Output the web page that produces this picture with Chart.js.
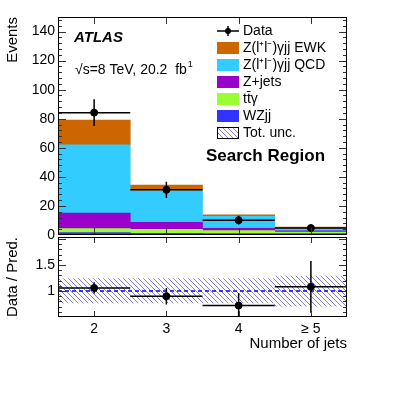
<!DOCTYPE html>
<html>
<head>
<meta charset="utf-8">
<script src="https://cdn.jsdelivr.net/npm/chart.js@4.4.1/dist/chart.umd.min.js"></script>
<style>
  html, body { margin: 0; padding: 0; background: #fff; }
  #wrap { position: relative; width: 407px; height: 394px; }
  canvas { position: absolute; left: 0; top: 0; }
</style>
</head>
<body>
<div id="wrap">
  <canvas id="main" width="407" height="394"></canvas>
  <canvas id="ratio" width="407" height="394"></canvas>
</div>
<script>
// bins and stacked backgrounds (bottom to top)
const categories = ['2', '3', '4', '≥ 5'];
const wzjj = [1.6, 1.2, 1.0, 1.0];
const ttgamma = [2.8, 2.7, 2.0, 1.0];
const zjets = [10.6, 4.9, 1.6, 0.8];
const zgQcd = [47.0, 21.8, 8.3, 2.0];
const zgEwk = [17.0, 3.8, 0.9, 0.7];

// observed data
const dataVals = [84.2, 31.1, 10.2, 4.8];
const dataErr = [9.2, 5.6, 3.0, 2.2];

// ratio panel
const ratioVals = [1.06, 0.90, 0.72, 1.08];
const ratioErr = [0.11, 0.16, 0.24, 0.50];
const uncLow = [0.77, 0.77, 0.77, 0.71];
const uncHigh = [1.24, 1.24, 1.24, 1.29];

const mainTicks = [0, 20, 40, 60, 80, 100, 120, 140];
const ratioTicks = [1, 1.5];

const FONT = '"Liberation Sans", Arial, sans-serif';
Chart.defaults.font.family = FONT;
Chart.defaults.color = '#000';

const makeHatch = (ctx) => {
  const tile = document.createElement('canvas');
  tile.width = 5; tile.height = 5;
  const g = tile.getContext('2d');
  g.strokeStyle = 'rgb(125,125,235)';
  g.lineWidth = 1;
  g.beginPath();
  g.moveTo(-1, -1); g.lineTo(6, 6);
  g.moveTo(-1, 4); g.lineTo(1, 6);
  g.moveTo(4, -1); g.lineTo(6, 1);
  g.stroke();
  return ctx.createPattern(tile, 'repeat');
};

const drawFrameAndTicks = (chart, yStepMajor, yStepMinor, yMin, yMax, xLen) => {
  const { ctx, chartArea: a, scales } = chart;
  const y = scales.y, x = scales.x;
  ctx.save();
  ctx.strokeStyle = '#333';
  ctx.lineWidth = 1;
  ctx.beginPath();
  const nMinor = Math.round((yMax - yMin) / yStepMinor);
  const ratio = Math.round(yStepMajor / yStepMinor);
  for (let i = 0; i <= nMinor; i++) {
    const v = yMin + i * yStepMinor;
    const py = Math.round(y.getPixelForValue(v)) + 0.5;
    if (py < a.top || py > a.bottom) continue;
    const len = i % ratio === 0 ? 8 : 4;
    ctx.moveTo(a.left, py); ctx.lineTo(a.left + len, py);
    ctx.moveTo(a.right, py); ctx.lineTo(a.right - len, py);
  }
  categories.forEach((c, i) => {
    const px = Math.round(x.getPixelForValue(i)) + 0.5;
    ctx.moveTo(px, a.top); ctx.lineTo(px, a.top + xLen);
    ctx.moveTo(px, a.bottom); ctx.lineTo(px, a.bottom - xLen);
  });
  ctx.stroke();
  ctx.strokeStyle = '#000';
  ctx.strokeRect(a.left + 0.5, a.top + 0.5, a.right - a.left - 1, a.bottom - a.top - 1);
  ctx.restore();
};

const drawErrors = (chart, vals, errs) => {
  const { ctx, chartArea: a, scales } = chart;
  const half = (a.right - a.left) / categories.length / 2;
  ctx.save();
  ctx.beginPath();
  ctx.rect(a.left, a.top, a.right - a.left, a.bottom - a.top);
  ctx.clip();
  ctx.strokeStyle = '#000';
  ctx.lineWidth = 1.5;
  ctx.beginPath();
  vals.forEach((v, i) => {
    const px = scales.x.getPixelForValue(i);
    const py = scales.y.getPixelForValue(v);
    ctx.moveTo(px - half, py); ctx.lineTo(px + half, py);
    ctx.moveTo(px, scales.y.getPixelForValue(v + errs[i]));
    ctx.lineTo(px, scales.y.getPixelForValue(v - errs[i]));
  });
  ctx.stroke();
  ctx.restore();
};

// main panel
const mainCanvas = document.getElementById('main');
const mainHatch = makeHatch(mainCanvas.getContext('2d'));

const legendItems = [
  { label: 'Z(l⁺l⁻)γjj EWK', color: 'rgb(204,102,0)' },
  { label: 'Z(l⁺l⁻)γjj QCD', color: 'rgb(51,204,255)' },
  { label: 'Z+jets', color: 'rgb(153,0,204)' },
  { label: 'tt̄γ', color: 'rgb(153,255,51)' },
  { label: 'WZjj', color: 'rgb(51,51,255)' },
];

const mainDecor = {
  id: 'mainDecor',
  afterDatasetsDraw(chart) {
    drawErrors(chart, dataVals, dataErr);
    drawFrameAndTicks(chart, 20, 4, 0, 150, 7);
    const { ctx } = chart;
    ctx.save();
    ctx.fillStyle = '#000';
    ctx.textBaseline = 'middle';
    ctx.textAlign = 'left';
    ctx.font = 'italic bold 15px ' + FONT;
    ctx.fillText('ATLAS', 74, 38);
    ctx.font = '14px ' + FONT;
    const lumi = '√s=8 TeV, 20.2  fb';
    ctx.fillText(lumi, 75, 70);
    const w = ctx.measureText(lumi).width;
    ctx.font = '9px ' + FONT;
    ctx.fillText('1', 75 + w + 1, 65);

    // legend
    const lx = 217, tx = 243, y0 = 31, dy = 17;
    ctx.font = '14px ' + FONT;
    ctx.strokeStyle = '#000';
    ctx.lineWidth = 1.5;
    ctx.beginPath();
    ctx.moveTo(lx, y0); ctx.lineTo(lx + 22, y0);
    ctx.moveTo(lx + 11, y0 - 5); ctx.lineTo(lx + 11, y0 + 5);
    ctx.stroke();
    ctx.beginPath();
    ctx.arc(lx + 11, y0, 3, 0, Math.PI * 2);
    ctx.fill();
    ctx.fillText('Data', tx, y0);
    legendItems.forEach((it, i) => {
      const yy = y0 + dy * (i + 1);
      ctx.fillStyle = it.color;
      ctx.fillRect(lx, yy - 6, 22, 12);
      ctx.fillStyle = '#000';
      ctx.fillText(it.label, tx, yy);
    });
    const yu = y0 + dy * 6;
    ctx.fillStyle = mainHatch;
    ctx.fillRect(lx, yu - 6, 22, 12);
    ctx.lineWidth = 1;
    ctx.strokeRect(lx + 0.5, yu - 5.5, 21, 11);
    ctx.fillStyle = '#000';
    ctx.fillText('Tot. unc.', tx, yu);

    ctx.font = 'bold 17px ' + FONT;
    ctx.fillText('Search Region', 206, 156);
    ctx.restore();
  }
};

const barSet = (label, data, color) => ({
  type: 'bar', label, data, backgroundColor: color, borderWidth: 0,
  barPercentage: 1, categoryPercentage: 1, stack: 'mc'
});

new Chart(mainCanvas, {
  type: 'bar',
  data: {
    labels: categories,
    datasets: [
      { type: 'line', label: 'Data', data: dataVals, showLine: false, stack: 'data', order: -1,
        pointRadius: 3.5, pointBackgroundColor: '#000', pointBorderColor: '#000' },
      barSet('WZjj', wzjj, 'rgb(51,51,255)'),
      barSet('ttgamma', ttgamma, 'rgb(153,255,51)'),
      barSet('Z+jets', zjets, 'rgb(153,0,204)'),
      barSet('QCD', zgQcd, 'rgb(51,204,255)'),
      barSet('EWK', zgEwk, 'rgb(204,102,0)'),
    ],
  },
  options: {
    responsive: false,
    animation: false,
    layout: { padding: { left: 0, right: 60, top: 17, bottom: 159 } },
    plugins: { legend: { display: false }, tooltip: { enabled: false } },
    scales: {
      x: { display: false, stacked: true },
      y: {
        stacked: true, min: 0, max: 150,
        afterBuildTicks: (s) => { s.ticks = mainTicks.map((v) => ({ value: v })); },
        afterFit: (s) => { s.width = 58; },
        ticks: { font: { size: 14 }, padding: 3, color: '#000', callback: (v) => String(v) },
        grid: { display: false, drawTicks: false },
        border: { display: false },
        title: { display: true, text: 'Events', align: 'end', font: { size: 15 }, padding: { top: 4, bottom: 0 }, color: '#000' },
      },
    },
  },
  plugins: [mainDecor],
});

// ratio panel
const ratioCanvas = document.getElementById('ratio');
const ratioHatch = makeHatch(ratioCanvas.getContext('2d'));

const ratioDecor = {
  id: 'ratioDecor',
  afterDatasetDraw(chart, args) {
    if (args.index !== 0) return;
    const { ctx, chartArea: a, scales } = chart;
    const py = scales.y.getPixelForValue(1);
    ctx.save();
    ctx.strokeStyle = 'rgb(0,0,255)';
    ctx.lineWidth = 1.5;
    ctx.setLineDash([4, 3]);
    ctx.beginPath();
    ctx.moveTo(a.left, py); ctx.lineTo(a.right, py);
    ctx.stroke();
    ctx.restore();
  },
  afterDatasetsDraw(chart) {
    drawErrors(chart, ratioVals, ratioErr);
    drawFrameAndTicks(chart, 0.5, 0.1, 0.5, 2.0, 6);
  }
};

new Chart(ratioCanvas, {
  type: 'bar',
  data: {
    labels: categories,
    datasets: [
      { type: 'bar', label: 'Tot. unc.', data: uncLow.map((lo, i) => [lo, uncHigh[i]]),
        backgroundColor: ratioHatch, borderWidth: 0, barPercentage: 1, categoryPercentage: 1, order: 0 },
      { type: 'line', label: 'Data / Pred.', data: ratioVals, showLine: false, order: -1,
        pointRadius: 3.5, pointBackgroundColor: '#000', pointBorderColor: '#000' },
    ],
  },
  options: {
    responsive: false,
    animation: false,
    layout: { padding: { left: 0, right: 60, top: 237, bottom: 37 } },
    plugins: { legend: { display: false }, tooltip: { enabled: false } },
    scales: {
      x: {
        afterFit: (s) => { s.height = 40; },
        ticks: { font: { size: 14 }, padding: 4, color: '#000' },
        grid: { display: false, drawTicks: false },
        border: { display: false },
        title: { display: true, text: 'Number of jets', align: 'end', font: { size: 15 }, padding: { top: 0, bottom: 4 }, color: '#000' },
      },
      y: {
        min: 0.5, max: 2.04,
        afterBuildTicks: (s) => { s.ticks = ratioTicks.map((v) => ({ value: v })); },
        afterFit: (s) => { s.width = 58; },
        ticks: { font: { size: 14 }, padding: 3, color: '#000', callback: (v) => String(v) },
        grid: { display: false, drawTicks: false },
        border: { display: false },
        title: { display: true, text: 'Data / Pred.', align: 'end', font: { size: 15 }, padding: { top: 4, bottom: 0 }, color: '#000' },
      },
    },
  },
  plugins: [ratioDecor],
});
</script>
</body>
</html>
